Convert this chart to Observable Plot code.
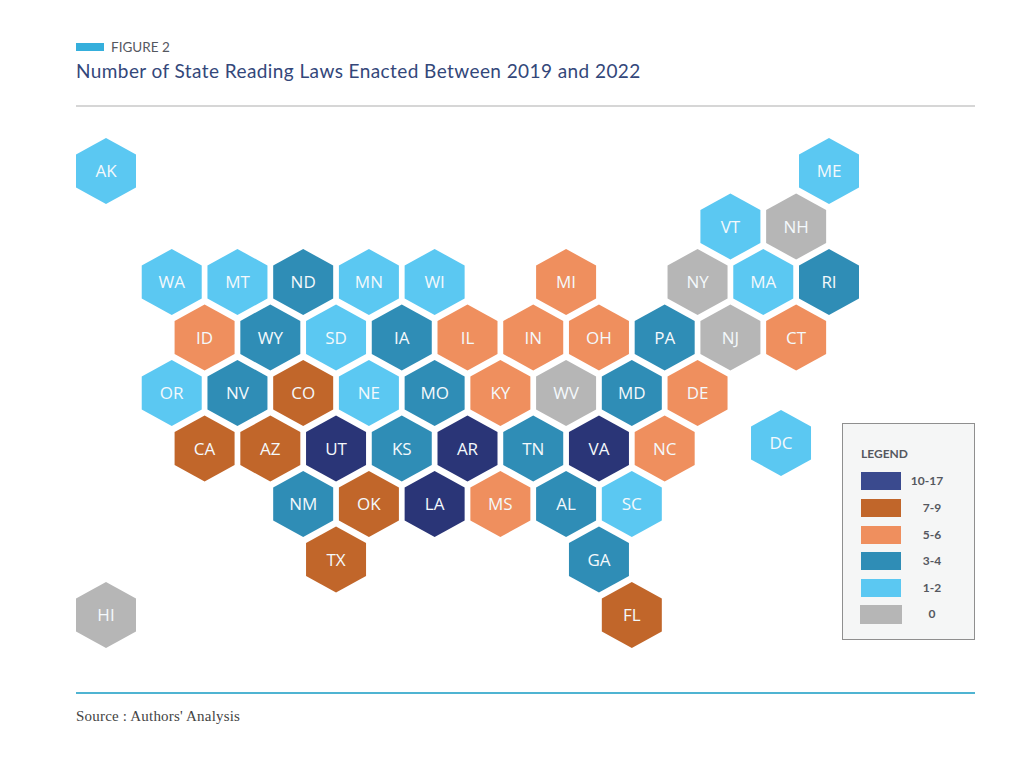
<!DOCTYPE html>
<html>
<head>
<meta charset="utf-8">
<script src="https://cdn.jsdelivr.net/npm/d3@7"></script>
<script src="https://cdn.jsdelivr.net/npm/@observablehq/plot@0.6"></script>
<style>
  html, body { margin: 0; background: #fff; }
  #page { position: relative; width: 1022px; height: 759px; overflow: hidden; font-family: Lato, sans-serif; }
  #page > * { position: absolute; }
  #tag { left: 76px; top: 43px; width: 28px; height: 8px; background: #35afdc; }
  #fig { left: 111px; top: 40px; font-size: 13.5px; line-height: 15px; color: #55585f; }
  #title { left: 76px; top: 60px; font-size: 19px; line-height: 22px; letter-spacing: 0.42px; color: #33477a; margin: 0; font-weight: 400; }
  #rule { left: 76px; top: 105px; width: 899px; height: 2px; background: #d6d6d6; }
  #chart { left: 0; top: 125px; }
  #rule2 { left: 76px; top: 692px; width: 899px; height: 2px; background: #4fb4d2; }
  #source { left: 76px; top: 708px; font: 15px/17px "Liberation Serif", serif; letter-spacing: 0.2px; color: #444; }
  #legend { left: 842px; top: 423px; width: 131px; height: 215px; box-sizing: content-box; background: #f5f6f6; border: 1px solid #8f8f8f; }
  #legend div { position: absolute; }
  #legend .head { left: 18px; top: 22px; font-size: 12px; line-height: 15px; font-weight: 700; color: #55585f; }
  #legend .lab { width: 60px; text-align: center; font-size: 12px; line-height: 15px; font-weight: 700; color: #55585f; }
</style>
</head>
<body>
<div id="page">
  <div id="tag"></div>
  <div id="fig">FIGURE 2</div>
  <h1 id="title">Number of State Reading Laws Enacted Between 2019 and 2022</h1>
  <div id="rule"></div>
  <div id="chart"></div>
  <div id="legend"><div class="head">LEGEND</div></div>
  <div id="rule2"></div>
  <div id="source">Source : Authors' Analysis</div>
</div>
<script>
const states = [
  "AK", "ME",
  "VT", "NH",
  "WA", "MT", "ND", "MN", "WI", "MI", "NY", "MA", "RI",
  "ID", "WY", "SD", "IA", "IL", "IN", "OH", "PA", "NJ", "CT",
  "OR", "NV", "CO", "NE", "MO", "KY", "WV", "MD", "DE",
  "CA", "AZ", "UT", "KS", "AR", "TN", "VA", "NC",
  "NM", "OK", "LA", "MS", "AL", "SC",
  "TX", "GA",
  "HI", "FL",
  "DC",
];
const cols = [
  -2, 20,
  17, 19,
  0, 2, 4, 6, 8, 12, 16, 18, 20,
  1, 3, 5, 7, 9, 11, 13, 15, 17, 19,
  0, 2, 4, 6, 8, 10, 12, 14, 16,
  1, 3, 5, 7, 9, 11, 13, 15,
  4, 6, 8, 10, 12, 14,
  5, 13,
  -2, 14,
  18.54,
];
const rows = [
  -2, -2,
  -1, -1,
  0, 0, 0, 0, 0, 0, 0, 0, 0,
  1, 1, 1, 1, 1, 1, 1, 1, 1, 1,
  2, 2, 2, 2, 2, 2, 2, 2, 2,
  3, 3, 3, 3, 3, 3, 3, 3,
  4, 4, 4, 4, 4, 4,
  5, 5,
  6, 6,
  2.9,
];
const groups = [
  "1-2", "1-2",
  "1-2", "0",
  "1-2", "1-2", "3-4", "1-2", "1-2", "5-6", "0", "1-2", "3-4",
  "5-6", "3-4", "1-2", "3-4", "5-6", "5-6", "5-6", "3-4", "0", "5-6",
  "1-2", "3-4", "7-9", "1-2", "3-4", "5-6", "0", "3-4", "5-6",
  "7-9", "7-9", "10-17", "3-4", "10-17", "3-4", "10-17", "5-6",
  "3-4", "7-9", "10-17", "5-6", "3-4", "1-2",
  "7-9", "3-4",
  "0", "7-9",
  "1-2",
];
const legendLabels = ["10-17", "7-9", "5-6", "3-4", "1-2", "0"];
const hexColors = ["#2a3577", "#c1662a", "#ef8f5e", "#2f8db6", "#5bc8f2", "#b6b6b6"];
const swatchColors = ["#3a4a8e", "#c1662a", "#ef8f5e", "#2f8db6", "#5bc8f2", "#b6b6b6"];

const table = states.map((s, i) => ({ state: s, col: cols[i], row: rows[i], group: groups[i] }));

// flat Plot hexagon is too tall for this map, so squash it a little
const hex = {
  draw(ctx, size) {
    const rx = Math.sqrt(size / Math.PI);
    const ry = rx * 1.1;
    ctx.moveTo(0, ry);
    ctx.lineTo(rx, ry / 2);
    ctx.lineTo(rx, -ry / 2);
    ctx.lineTo(0, -ry);
    ctx.lineTo(-rx, -ry / 2);
    ctx.lineTo(-rx, ry / 2);
    ctx.closePath();
  },
};

const plot = Plot.plot({
  width: 1022,
  height: 550,
  margin: 0,
  x: { axis: null, domain: [-2, 20], range: [105.5, 828.5] },
  y: { axis: null, domain: [-2, 6], range: [45.5, 489.5] },
  color: { domain: legendLabels, range: hexColors },
  marks: [
    Plot.dot(table, { x: "col", y: "row", r: 30, symbol: hex, fill: "group", stroke: null }),
    Plot.text(table, {
      x: "col",
      y: "row",
      text: "state",
      dy: 1,
      fill: "#f4f9fc",
      fontSize: 17,
      fontFamily: "Open Sans",
      fontWeight: 400,
    }),
  ],
});
document.getElementById("chart").appendChild(plot);

const legend = document.getElementById("legend");
const rowTop = [48, 75, 102, 128, 155, 181];
legendLabels.forEach((label, i) => {
  const sw = document.createElement("div");
  // the grey swatch is a touch bigger in the original
  const grow = i == 5 ? 1 : 0;
  sw.style.cssText = `left:${18 - grow}px;top:${rowTop[i]}px;width:${40 + 2 * grow}px;height:${18 + grow}px;background:${swatchColors[i]}`;
  legend.appendChild(sw);
  const t = document.createElement("div");
  t.className = "lab";
  t.textContent = label;
  t.style.cssText = `left:${i == 0 ? 54 : 59}px;top:${rowTop[i] + 1}px`;
  legend.appendChild(t);
});
</script>
</body>
</html>
